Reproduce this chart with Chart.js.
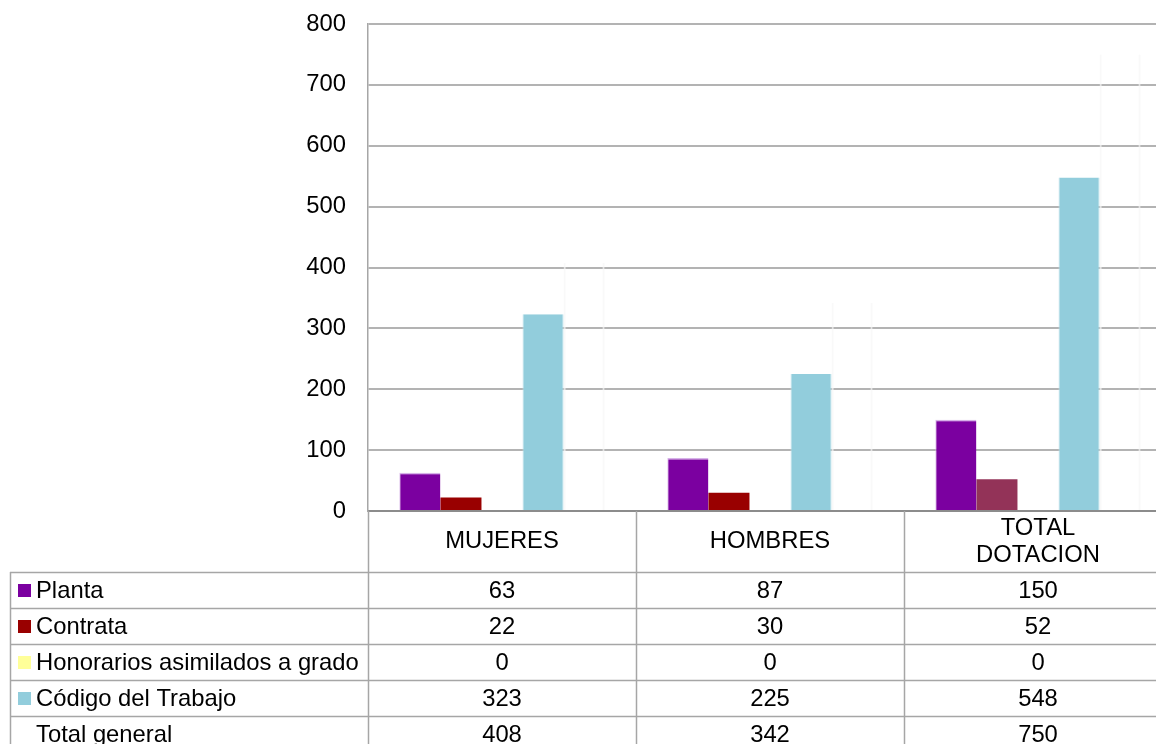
<!DOCTYPE html>
<html>
<head>
<meta charset="utf-8">
<script src="https://cdn.jsdelivr.net/npm/chart.js@4.4.1/dist/chart.umd.min.js"></script>
<style>
  html, body { margin: 0; padding: 0; background: #fff; overflow: hidden; width: 1156px; height: 744px; }
  #wrap { position: absolute; left: 0; top: 0; width: 1172px; height: 744px; }
</style>
</head>
<body>
<div id="wrap"><canvas id="c" width="1172" height="744"></canvas></div>
<script>
// ---- data ----
const categories = [["MUJERES"], ["HOMBRES"], ["TOTAL", "DOTACION"]];
const planta = [63, 87, 150];
const contrata = [22, 30, 52];
const honorarios = [0, 0, 0];
const codigoTrabajo = [323, 225, 548];
const totalGeneral = [408, 342, 750];
const seriesNames = ["Planta", "Contrata", "Honorarios asimilados a grado", "Código del Trabajo", "Total general"];
const yTicks = [0, 100, 200, 300, 400, 500, 600, 700, 800];

// ---- styles ----
const FONT = '"Liberation Sans", Arial, sans-serif';
const FS = 23.8;
const plantaColor = '#7b00a0';
const contrataColors = ['#990000', '#990000', '#933358'];
const honorColor = '#ffff99';
const codigoColor = '#92cddc';
const lineColor = '#a6a6a6';

const tableRows = [
  { name: seriesNames[0], color: plantaColor, values: planta },
  { name: seriesNames[1], color: '#990000', values: contrata },
  { name: seriesNames[2], color: honorColor, values: honorarios },
  { name: seriesNames[3], color: codigoColor, values: codigoTrabajo },
  { name: seriesNames[4], color: null, values: totalGeneral }
];

const tablePlugin = {
  id: 'dataTable',
  afterDraw(chart) {
    const ctx = chart.ctx;
    const area = chart.chartArea;
    const xs = chart.scales.x;
    const n = categories.length;
    const catW = (area.right - area.left) / n;
    const headerH = 61;
    const rowH = 36;
    const tableLeft = 10;
    const H = chart.height;
    ctx.save();
    ctx.strokeStyle = lineColor;
    ctx.lineWidth = 1.5;
    for (let i = 0; i <= n; i++) {
      const x = Math.round(area.left + i * catW) + 0.5;
      ctx.beginPath();
      ctx.moveTo(x, area.bottom);
      ctx.lineTo(x, H);
      ctx.stroke();
    }
    const rowTop0 = area.bottom + headerH;
    for (let r = 0; r < tableRows.length; r++) {
      const y = Math.round(rowTop0 + r * rowH) + 0.5;
      ctx.beginPath();
      ctx.moveTo(tableLeft, y);
      ctx.lineTo(area.right, y);
      ctx.stroke();
    }
    ctx.beginPath();
    ctx.moveTo(tableLeft + 0.5, rowTop0);
    ctx.lineTo(tableLeft + 0.5, H);
    ctx.stroke();

    ctx.fillStyle = '#000';
    ctx.font = FS + 'px ' + FONT;
    ctx.textBaseline = 'middle';
    ctx.textAlign = 'center';
    categories.forEach((lines, i) => {
      const cx = xs.getPixelForValue(i);
      const midY = area.bottom + headerH / 2;
      const lh = 27;
      lines.forEach((t, k) => {
        const y = midY + (k - (lines.length - 1) / 2) * lh;
        ctx.fillText(t, cx, y);
      });
    });
    tableRows.forEach((row, r) => {
      const cy = rowTop0 + r * rowH + rowH / 2 + 1;
      if (row.color) {
        ctx.fillStyle = row.color;
        ctx.fillRect(18, cy - 7, 13, 13);
      }
      ctx.fillStyle = '#000';
      ctx.textAlign = 'left';
      ctx.fillText(row.name, 36, cy);
      ctx.textAlign = 'center';
      row.values.forEach((v, i) => {
        ctx.fillText(String(v), xs.getPixelForValue(i), cy);
      });
    });
    ctx.restore();
  }
};

new Chart(document.getElementById('c'), {
  type: 'bar',
  data: {
    labels: categories.map(c => c.join(' ')),
    datasets: [
      { label: seriesNames[0], data: planta, backgroundColor: plantaColor, borderColor: 'rgba(210,170,230,0.9)', borderWidth: { top: 1.5, left: 1, right: 0, bottom: 0 }, borderSkipped: false },
      { label: seriesNames[1], data: contrata, backgroundColor: contrataColors, borderWidth: 0 },
      { label: seriesNames[2], data: honorarios, backgroundColor: honorColor, borderWidth: 0 },
      { label: seriesNames[3], data: codigoTrabajo, backgroundColor: codigoColor, borderColor: 'rgba(190,225,235,1)', borderWidth: { top: 0, left: 1, right: 1, bottom: 0 }, borderSkipped: false },
      { label: seriesNames[4], data: totalGeneral, backgroundColor: 'rgba(255,255,255,0)', borderColor: 'rgba(246,246,246,0.7)', borderWidth: { top: 0, left: 2, right: 2, bottom: 0 }, borderSkipped: false }
    ]
  },
  options: {
    responsive: false,
    animation: false,
    devicePixelRatio: 1,
    layout: { padding: { top: 24, right: 0, left: 0, bottom: 0 } },
    plugins: { legend: { display: false }, tooltip: { enabled: false } },
    datasets: { bar: { categoryPercentage: 0.766, barPercentage: 1.0 } },
    scales: {
      x: {
        offset: true,
        grid: { display: false },
        ticks: { display: false },
        border: { display: true, color: '#8c8c8c', width: 2 },
        afterFit(scale) { scale.height = 233; scale.paddingLeft = 0; scale.paddingRight = 0; }
      },
      y: {
        min: 0,
        max: 800,
        afterBuildTicks(scale) { scale.ticks = yTicks.map(v => ({ value: v })); },
        ticks: { color: '#000', font: { family: FONT, size: FS }, padding: 22 },
        grid: { color: '#b3b3b3', lineWidth: 2, drawTicks: false },
        border: { display: true, color: '#a6a6a6', width: 1.5 },
        afterFit(scale) { scale.width = 368; scale.paddingTop = 0; scale.paddingBottom = 0; }
      }
    }
  },
  plugins: [tablePlugin]
});
</script>
</body>
</html>
